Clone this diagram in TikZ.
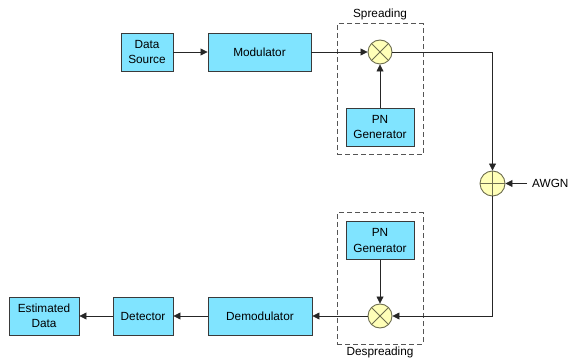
\documentclass[tikz,border=0pt]{standalone}
\usepackage{fontspec}
\setmainfont{Liberation Sans}
\usetikzlibrary{arrows.meta,positioning,calc}
\definecolor{boxfill}{HTML}{80E4FF}
\definecolor{boxline}{HTML}{3A3A3A}
\definecolor{opfill}{HTML}{FFFFB8}
\definecolor{opline}{HTML}{6E6E50}
\definecolor{dashline}{HTML}{555555}
\tikzset{
  block/.style={draw=boxline, fill=boxfill, line width=0.9pt, align=center,
    inner sep=0pt, font=\fontsize{11.8}{15.5}\selectfont},
  opcircle/.style={circle, draw=opline, fill=opfill, line width=0.9pt,
    minimum size=24pt, inner sep=0pt},
  group/.style={draw=dashline, dash pattern=on 5pt off 3pt, line width=1pt},
  link/.style={draw=black!85, line width=0.8pt, -{Triangle[length=7pt,width=7pt]}},
  lbl/.style={font=\fontsize{11.8}{15.5}\selectfont, inner sep=0pt},
}
\begin{document}
\begin{tikzpicture}[x=1pt,y=-1pt]
  \useasboundingbox (0,0) rectangle (570,358);

  % transmitter chain
  \node[block, minimum width=52pt, minimum height=38pt] (src) at (147,52) {Data\\Source};
  \node[block, minimum width=103pt, minimum height=38pt] (mod) at (259.5,52) {Modulator};
  \node[opcircle] (mul1) at (380,52) {};
  \draw[opline, line width=0.9pt] ($(mul1.center)+(-8.5,-8.5)$) -- ($(mul1.center)+(8.5,8.5)$)
                                  ($(mul1.center)+(-8.5,8.5)$) -- ($(mul1.center)+(8.5,-8.5)$);
  \node[block, minimum width=68pt, minimum height=38pt] (pn1) at (380,127) {PN\\Generator};

  % spreading group
  \node[group, minimum width=86pt, minimum height=131pt, inner sep=0pt] (spread) at (380,89.5) {};
  \node[lbl] (spreadlbl) at (380,14) {Spreading};

  % channel
  \node[opcircle, minimum size=25pt] (add) at (492.5,183.5) {};
  \draw[opline, line width=0.9pt] (add.west) -- (add.east) (add.north) -- (add.south);
  \node[lbl, anchor=west] (awgn) at (532,183.5) {AWGN};
  \coordinate (noise) at (527,183.5);

  % receiver chain
  \node[block, minimum width=68pt, minimum height=38pt] (pn2) at (380,240.5) {PN\\Generator};
  \node[opcircle] (mul2) at (380,316) {};
  \draw[opline, line width=0.9pt] ($(mul2.center)+(-8.5,-8.5)$) -- ($(mul2.center)+(8.5,8.5)$)
                                  ($(mul2.center)+(-8.5,8.5)$) -- ($(mul2.center)+(8.5,-8.5)$);
  \node[group, minimum width=86pt, minimum height=131pt, inner sep=0pt] (despread) at (380,278.5) {};
  \node[lbl] (despreadlbl) at (380,352) {Despreading};
  \node[block, minimum width=104pt, minimum height=38pt] (demod) at (260,316) {Demodulator};
  \node[block, minimum width=60pt, minimum height=38pt] (det) at (143,316) {Detector};
  \node[block, minimum width=70pt, minimum height=38pt] (est) at (44,316) {Estimated\\Data};

  % connections
  \draw[link] (src) -- (mod);
  \draw[link] (mod) -- (mul1);
  \draw[link] (pn1) -- (mul1);
  \draw[link] (mul1.east) -| (add.north);
  \draw[link] (noise) -- (add.east);
  \draw[link] (add.south) |- (mul2.east);
  \draw[link] (pn2) -- (mul2);
  \draw[link] (mul2) -- (demod);
  \draw[link] (demod) -- (det);
  \draw[link] (det) -- (est);
\end{tikzpicture}
\end{document}
